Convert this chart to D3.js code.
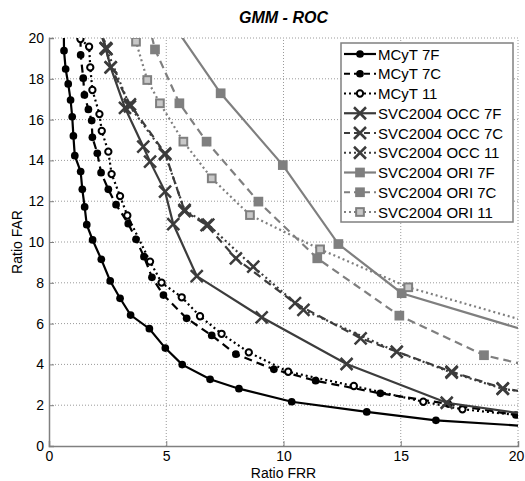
<!DOCTYPE html>
<html>
<head>
<meta charset="utf-8">
<script src="https://cdn.jsdelivr.net/npm/d3@7"></script>
<style>
body { margin: 0; background: #fff; }
text { font-family: Arial, "Liberation Sans", sans-serif; }
</style>
</head>
<body>
<svg></svg>
<script>
var w = 525, h = 481
var margin = { top: 38, right: 7, bottom: 35, left: 49 }

// [Ratio FRR, Ratio FAR]
var mcyt7F = [[0.63,20.6],[0.64,19.38],[0.71,18.48],[0.82,17.75],[0.92,16.96],[0.99,16.14],[1.04,15.2],[1.1,14.23],[1.35,13.45],[1.42,12.58],[1.52,11.72],[1.61,10.85],[1.86,10.1],[2.23,9.15],[2.61,8.09],[3.03,7.24],[3.48,6.42],[4.28,5.75],[4.96,4.8],[5.68,3.99],[6.87,3.27],[8.1,2.81],[10.35,2.17],[13.55,1.67],[16.5,1.26],[21,0.93]]
var mcyt7C = [[1.34,20.6],[1.35,19.17],[1.46,18.03],[1.51,17.21],[1.68,16.5],[1.82,15.95],[1.85,15.13],[2.06,14.35],[2.22,13.4],[2.53,12.58],[2.86,11.83],[3.38,10.9],[3.71,10.13],[4.05,9.28],[4.39,8.27],[4.88,7.4],[5.87,6.26],[6.94,5.42],[7.97,4.5],[9.59,3.76],[11.37,3.2],[14.13,2.58],[17.03,2.06],[19.91,1.52],[21,1.35]]
var mcyt11 = [[1.34,19.95],[1.71,19.57],[1.76,18.56],[1.85,17.45],[2.15,16.27],[2.25,15.44],[2.53,14.43],[2.67,13.33],[3.03,12.25],[3.34,11.3],[4.31,9.04],[4.8,8.01],[5.66,7.29],[6.44,6.36],[7.36,5.5],[8.52,4.59],[10.2,3.64],[13.0,2.94],[15.96,2.17],[17.63,1.8],[21,1.4]]
var occ7F = [[2.1,20.6],[2.42,19.49],[2.63,18.56],[3.24,16.58],[4.02,14.67],[4.31,13.94],[4.95,12.47],[5.3,10.88],[6.3,8.33],[9.07,6.31],[12.69,4.02],[16.96,2.12],[21,1.45]]
var occ7C = [[2.2,20.6],[2.42,19.5],[2.63,18.56],[3.45,16.75],[4.95,14.35],[5.78,11.52],[6.72,10.83],[7.97,9.2],[10.49,7.0],[13.29,5.28],[17.17,3.64],[19.35,2.83],[21,2.5]]
var occ11 = [[2.2,20.6],[2.45,19.45],[3.45,16.65],[4.95,14.3],[5.78,11.57],[6.79,10.85],[8.71,8.79],[10.85,6.67],[14.83,4.62],[17.17,3.6],[19.35,2.8],[21,2.55]]
var ori7F = [[5.33,20.6],[7.32,17.29],[9.97,13.77],[12.34,9.9],[15.04,7.49],[21,5.43]]
var ori7C = [[4.25,20.7],[4.52,19.44],[5.56,16.8],[6.72,14.92],[8.93,11.98],[11.44,9.2],[14.94,6.39],[18.55,4.45],[21,3.8]]
var ori11 = [[3.5,20.6],[3.71,19.82],[4.19,17.94],[4.73,16.8],[5.73,14.92],[6.94,13.12],[8.57,11.32],[11.56,9.64],[15.32,7.78],[21,5.9]]

var names = ["MCyT 7F", "MCyT 7C", "MCyT 11", "SVC2004 OCC 7F", "SVC2004 OCC 7C", "SVC2004 OCC 11", "SVC2004 ORI 7F", "SVC2004 ORI 7C", "SVC2004 ORI 11"]
var xTicks = [0, 5, 10, 15, 20]
var yTicks = [0, 2, 4, 6, 8, 10, 12, 14, 16, 18, 20]

var black = "#000", dark = "#3c3c3c", grey = "#7f7f7f"
var dash = "8,5", dot = "2,3"
var series = [
    { name: names[0], data: mcyt7F, color: black, dash: null, marker: "dot" },
    { name: names[1], data: mcyt7C, color: black, dash: dash, marker: "dot" },
    { name: names[2], data: mcyt11, color: black, dash: dot, marker: "ring" },
    { name: names[3], data: occ7F, color: dark, dash: null, marker: "x" },
    { name: names[4], data: occ7C, color: dark, dash: dash, marker: "x" },
    { name: names[5], data: occ11, color: dark, dash: dot, marker: "x" },
    { name: names[6], data: ori7F, color: grey, dash: null, marker: "sq" },
    { name: names[7], data: ori7C, color: grey, dash: dash, marker: "sq" },
    { name: names[8], data: ori11, color: grey, dash: dot, marker: "sqo" }
]

var svg = d3.select("svg")
    .attr("width", w)
    .attr("height", h)

var iw = w - margin.left - margin.right
var ih = h - margin.top - margin.bottom

var x = d3.scaleLinear().domain([0, 20]).range([margin.left, margin.left + iw])
var y = d3.scaleLinear().domain([0, 20]).range([margin.top + ih, margin.top])

svg.append("defs").append("clipPath")
    .attr("id", "plotclip")
    .append("rect")
        .attr("x", margin.left)
        .attr("y", margin.top)
        .attr("width", iw)
        .attr("height", ih)

// grid
var grid = svg.append("g")
grid.selectAll(".gx").data(xTicks.slice(1)).enter().append("line")
    .attr("x1", d => x(d)).attr("x2", d => x(d))
    .attr("y1", y(0)).attr("y2", y(20))
    .attr("stroke", "#9a9a9a").attr("stroke-width", 1).attr("stroke-dasharray", "1,2")
grid.selectAll(".gy").data(yTicks.slice(1)).enter().append("line")
    .attr("x1", x(0)).attr("x2", x(20))
    .attr("y1", d => y(d)).attr("y2", d => y(d))
    .attr("stroke", "#9a9a9a").attr("stroke-width", 1).attr("stroke-dasharray", "1,2")

// axes
var xAxis = svg.append("g")
    .attr("transform", "translate(0," + y(0) + ")")
    .call(d3.axisBottom(x).tickValues(xTicks).tickSize(-5).tickPadding(5))
var yAxis = svg.append("g")
    .attr("transform", "translate(" + x(0) + ",0)")
    .call(d3.axisLeft(y).tickValues(yTicks).tickSize(-5).tickPadding(5))
svg.selectAll(".domain").attr("stroke", "#808080").attr("stroke-width", 1.5)
svg.selectAll(".tick line").attr("stroke", "#808080")
svg.selectAll(".tick text")
    .attr("font-size", 14)
    .attr("font-family", "Arial, 'Liberation Sans', sans-serif")
    .attr("fill", "#000")
xAxis.selectAll(".tick text").filter(d => d == 20).attr("dx", -2)

function drawMarker(g, s, size)
{
    if (s.marker == "dot") {
        g.append("circle").attr("r", size * 0.55).attr("fill", s.color)
    } else if (s.marker == "ring") {
        g.append("circle").attr("r", size * 0.45).attr("fill", "#fff")
            .attr("stroke", s.color).attr("stroke-width", 2)
    } else if (s.marker == "x") {
        var r = size
        g.append("path").attr("d", "M" + (-r) + "," + (-r) + "L" + r + "," + r + "M" + (-r) + "," + r + "L" + r + "," + (-r))
            .attr("stroke", s.color).attr("stroke-width", 2.5).attr("fill", "none")
    } else {
        var a = size * 0.55
        g.append("rect").attr("x", -a).attr("y", -a).attr("width", 2 * a).attr("height", 2 * a)
            .attr("fill", s.marker == "sqo" ? "#c8c8c8" : s.color)
            .attr("stroke", s.color).attr("stroke-width", 2)
    }
}

var line = d3.line().x(d => x(d[0])).y(d => y(d[1]))

var plot = svg.append("g").attr("clip-path", "url(#plotclip)")
series.forEach(function(s) {
    plot.append("path")
        .datum(s.data)
        .attr("d", line)
        .attr("fill", "none")
        .attr("stroke", s.color)
        .attr("stroke-width", 2.2)
        .attr("stroke-dasharray", s.dash)
    plot.selectAll(null).data(s.data.filter(d => d[0] <= 20 && d[1] <= 20 && d[1] > 0)).enter().append("g")
        .attr("transform", d => "translate(" + x(d[0]) + "," + y(d[1]) + ")")
        .each(function() { drawMarker(d3.select(this), s, s.marker == "x" ? 6 : 7) })
})

// title and labels
svg.append("text")
    .attr("x", (x(0) + x(20)) / 2).attr("y", 23)
    .attr("text-anchor", "middle")
    .attr("font-size", 16).attr("font-weight", "bold").attr("font-style", "italic")
    .text("GMM - ROC")
svg.append("text")
    .attr("x", (x(0) + x(20)) / 2).attr("y", 478)
    .attr("text-anchor", "middle")
    .attr("font-size", 14)
    .text("Ratio FRR")
svg.append("text")
    .attr("transform", "translate(22," + (y(10)) + ") rotate(-90)")
    .attr("text-anchor", "middle")
    .attr("font-size", 14)
    .text("Ratio FAR")

// legend
var lx = 341, ly = 43, lw = 172, lh = 179, row = 19.75
var legend = svg.append("g")
legend.append("rect")
    .attr("x", lx).attr("y", ly).attr("width", lw).attr("height", lh)
    .attr("fill", "#fff").attr("stroke", "#808080").attr("stroke-width", 1.5)
series.forEach(function(s, i) {
    var cy = ly + 11 + i * row
    legend.append("line")
        .attr("x1", lx + 3).attr("x2", lx + 35)
        .attr("y1", cy).attr("y2", cy)
        .attr("stroke", s.color).attr("stroke-width", 2.2)
        .attr("stroke-dasharray", s.dash == dash ? "6,4" : s.dash)
    var m = legend.append("g").attr("transform", "translate(" + (lx + 19) + "," + cy + ")")
    drawMarker(m, s, s.marker == "x" ? 6 : 7)
    legend.append("text")
        .attr("x", lx + 37).attr("y", cy + 5.5)
        .attr("font-size", 15)
        .text(s.name)
})
</script>
</body>
</html>
